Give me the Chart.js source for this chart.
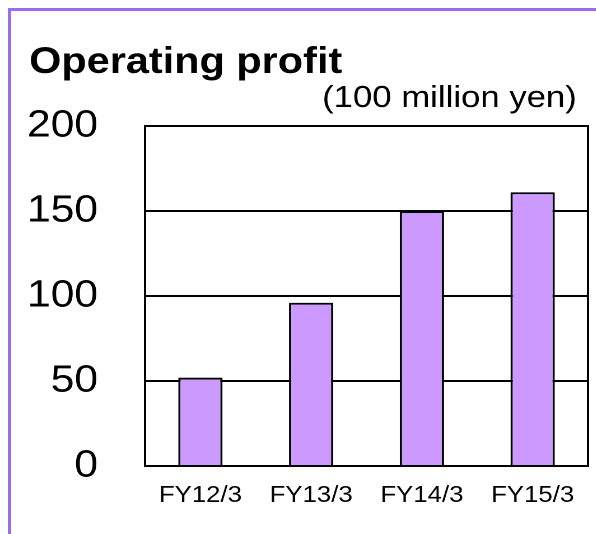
<!DOCTYPE html>
<html>
<head>
<meta charset="utf-8">
<script src="https://cdn.jsdelivr.net/npm/chart.js@4"></script>
<style>
    body { margin: 0; width: 596px; height: 534px; overflow: hidden; background: #fff; position: relative; }
    #moldura { position: absolute; left: 8px; top: 8px; width: 600px; height: 540px; border-left: 3px solid #9b6cf0; border-top: 3px solid #9b6cf0; }
    #chartBarra { position: absolute; left: 0; top: 0; transform: scaleX(1.12); transform-origin: 0 0; }
</style>
</head>
<body>
<div id="moldura"></div>
<canvas id="chartBarra" width="532" height="534"></canvas>
<script>
var labels = ['FY12/3', 'FY13/3', 'FY14/3', 'FY15/3']
var data = [52, 96, 150, 161]
var yTicks = [0, 50, 100, 150, 200]
var titulo = 'Operating profit'
var unidade = '(100 million yen)'

var fonte = "'Liberation Sans', Arial, sans-serif"

// titles + right border of the plot box
var extras = {
    id: 'extras',
    afterDraw: function(chart){
        var ctx = chart.ctx
        var area = chart.chartArea
        ctx.save()
        ctx.strokeStyle = '#000'
        ctx.lineWidth = 2
        ctx.beginPath()
        ctx.moveTo(area.right, area.top - 1)
        ctx.lineTo(area.right, area.bottom + 1)
        ctx.stroke()

        ctx.fillStyle = '#000'
        ctx.textBaseline = 'alphabetic'
        ctx.textAlign = 'left'
        ctx.font = 'bold 37px ' + fonte
        ctx.fillText(titulo, 26, 73)
        ctx.textAlign = 'right'
        ctx.font = '31px ' + fonte
        ctx.fillText(unidade, 515, 107)
        ctx.restore()
    }
}

var dados = {
    labels: labels,
    datasets: [{
        label: '',
        data: data,
        backgroundColor: '#cc99ff',
        borderColor: '#000',
        borderWidth: 2,
        barPercentage: 0.4,
        categoryPercentage: 1
    }]
}

const ctx = document.getElementById('chartBarra')
var barChart = new Chart(ctx, {
    type: 'bar',
    data: dados,
    plugins: [extras],
    options: {
        responsive: false,
        animation: false,
        devicePixelRatio: 2,
        layout: {
            padding: { top: 126, right: 7, left: 0, bottom: 0 }
        },
        scales: {
            x: {
                grid: { display: false, drawTicks: false },
                border: { color: '#000', width: 2 },
                ticks: {
                    color: '#000',
                    padding: 16,
                    maxRotation: 0,
                    font: { family: fonte, size: 23 }
                },
                afterFit: function(s){ s.height = 68 }
            },
            y: {
                min: 0,
                max: 200,
                afterBuildTicks: function(s){
                    s.ticks = yTicks.map(function(v){ return { value: v } })
                },
                grid: { color: '#000', lineWidth: 2, drawTicks: false },
                border: { color: '#000', width: 2 },
                ticks: {
                    color: '#000',
                    padding: 42,
                    font: { family: fonte, size: 38 }
                },
                afterFit: function(s){ s.width = 129.5 }
            }
        },
        plugins: {
            legend: { display: false },
            tooltip: { enabled: false }
        }
    }
})
</script>
</body>
</html>
